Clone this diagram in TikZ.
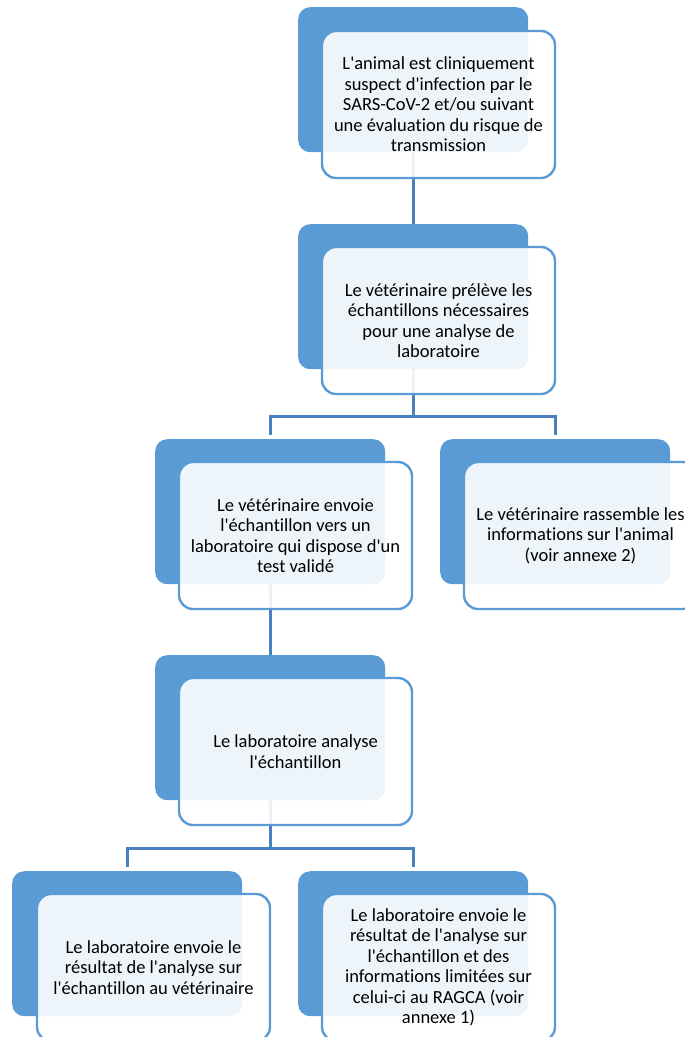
\documentclass[tikz,border=0pt]{standalone}
\usepackage{fontspec}
\setmainfont{Carlito}[Ligatures={TeXOff,NoCommon}]
\definecolor{accent}{HTML}{5B9BD5}
\definecolor{linec}{HTML}{4A80BE}
\begin{document}
\begin{tikzpicture}[x=1pt,y=-1pt,
  back/.style={anchor=north west,minimum width=230pt,minimum height=145pt,inner sep=0pt,rounded corners=12pt,fill=accent},
  front/.style={minimum width=233pt,minimum height=147pt,inner sep=0pt,rounded corners=14pt,draw=accent,line width=2.4pt,fill=white,fill opacity=0.9,text opacity=1,align=center,font=\fontsize{18.5}{20.5}\selectfont},
  conn/.style={draw=linec,line width=2.6pt},
]
\useasboundingbox (0,0) rectangle (685,1037);
\clip (0,0) rectangle (685,1037);
% back blocks
\node[back] (b1) at (298,7) {};
\node[back] (b2) at (298,224) {};
\node[back] (b3) at (155,439) {};
\node[back] (b4) at (440,439) {};
\node[back] (b5) at (155,655) {};
\node[back] (b6) at (12,871) {};
\node[back] (b7) at (298,871) {};
% connectors
\draw[conn] (b1.south) -- (b2.north);
\draw[conn,shorten >=4pt] (b2.south) -- ++(0,47) -| (b3.north);
\draw[conn,shorten >=4pt] (b2.south) -- ++(0,47) -| (b4.north);
\draw[conn] (b3.south) -- (b5.north);
\draw[conn,shorten >=4pt] (b5.south) -- ++(0,48) -| (b6.north);
\draw[conn,shorten >=4pt] (b5.south) -- ++(0,48) -| (b7.north);
% front blocks
\node[front] (f1) at (438.5,104.5) {L'animal est cliniquement\\suspect d'infection par le\\SARS-CoV-2 et/ou suivant\\une évaluation du risque de\\transmission};
\node[front] (f2) at (438.5,320.5) {Le vétérinaire prélève les\\échantillons nécessaires\\pour une analyse de\\laboratoire};
\node[front] (f3) at (295.5,535.5) {Le vétérinaire envoie\\l'échantillon vers un\\laboratoire qui dispose d'un\\test validé};
\node[front] (f4) at (580.5,535.5) {Le vétérinaire rassemble les\\informations sur l'animal\\(voir annexe 2)};
\node[front] (f5) at (295.5,751.5) {Le laboratoire analyse\\l'échantillon};
\node[front] (f6) at (153.5,967.5) {Le laboratoire envoie le\\résultat de l'analyse sur\\l'échantillon au vétérinaire};
\node[front] (f7) at (438.5,967.5) {Le laboratoire envoie le\\résultat de l'analyse sur\\l'échantillon et des\\informations limitées sur\\celui-ci au RAGCA (voir\\annexe 1)};
\end{tikzpicture}
\end{document}
